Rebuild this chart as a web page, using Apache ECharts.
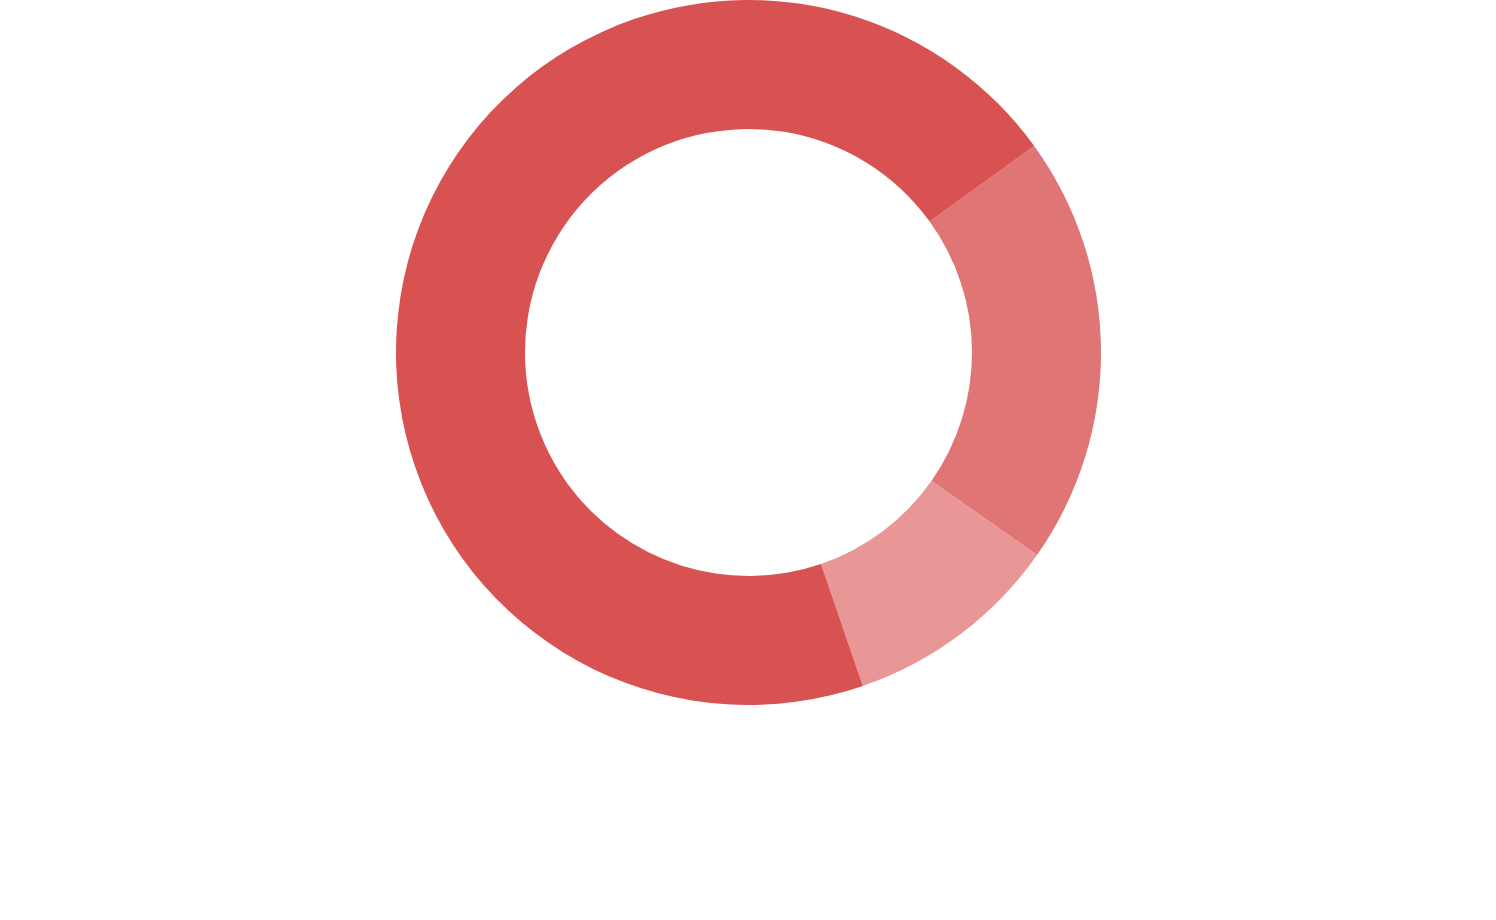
<!DOCTYPE html>
<html>
<head>
<meta charset="utf-8">
<style>
  html, body { margin: 0; padding: 0; background: #ffffff; }
  #chart { width: 1496px; height: 920px; }
</style>
<script src="https://cdn.jsdelivr.net/npm/echarts@6/dist/echarts.min.js"></script>
</head>
<body>
<div id="chart"></div>
<script>
const categories = ['B', 'C', 'A'];
const values = [19.7, 10.0, 70.3];
const colors = ['#e07575', '#e89696', '#d95252'];

const chart = echarts.init(document.getElementById('chart'), null, { renderer: 'canvas' });
chart.setOption({
  animation: false,
  backgroundColor: '#ffffff',
  series: [{
    type: 'pie',
    center: [748.5, 352.5],
    radius: [223.5, 352.5],
    startAngle: 35.85,
    clockwise: true,
    avoidLabelOverlap: false,
    label: { show: false },
    labelLine: { show: false },
    emphasis: { disabled: true },
    itemStyle: { borderWidth: 0 },
    data: categories.map((c, i) => ({ name: c, value: values[i], itemStyle: { color: colors[i] } }))
  }]
});
</script>
</body>
</html>
